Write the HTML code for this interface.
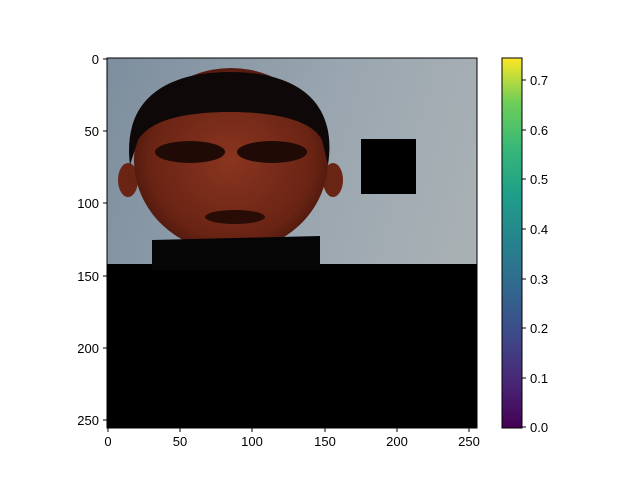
<!DOCTYPE html>
<html><head><meta charset="utf-8"><style>
body{margin:0;background:#fff;}
svg{display:block;font-family:"Liberation Sans",sans-serif;font-size:13px;}
</style></head><body>
<svg width="640" height="480" viewBox="0 0 640 480">
<defs>
<linearGradient id="vir" x1="0" y1="1" x2="0" y2="0">
<stop offset="0" stop-color="#440154"/><stop offset="0.13" stop-color="#482878"/>
<stop offset="0.25" stop-color="#3e4989"/><stop offset="0.38" stop-color="#31688e"/>
<stop offset="0.5" stop-color="#26828e"/><stop offset="0.63" stop-color="#1f9e89"/>
<stop offset="0.75" stop-color="#35b779"/><stop offset="0.88" stop-color="#6ece58"/>
<stop offset="1" stop-color="#fde725"/></linearGradient>
<linearGradient id="wall" x1="0" y1="0" x2="1" y2="0.3">
<stop offset="0" stop-color="#7d8e9e"/><stop offset="0.6" stop-color="#9aa6b0"/><stop offset="1" stop-color="#a8b0b4"/></linearGradient>
<radialGradient id="skin" cx="0.5" cy="0.5" r="0.6">
<stop offset="0" stop-color="#8a3520"/><stop offset="0.7" stop-color="#6a2414"/><stop offset="1" stop-color="#3a1008"/></radialGradient>
<clipPath id="ax"><rect x="107" y="58" width="370" height="370"/></clipPath>
</defs>
<g clip-path="url(#ax)">
<rect x="107" y="58" width="370" height="370" fill="url(#wall)"/>
<rect x="107" y="264" width="370" height="170" fill="#000"/>
<rect x="361" y="139" width="55" height="55" fill="#000"/>
<ellipse cx="128" cy="180" rx="10" ry="17" fill="#6a2414"/>
<ellipse cx="333" cy="180" rx="10" ry="17" fill="#6a2414"/>
<ellipse cx="231" cy="160" rx="97" ry="92" fill="url(#skin)"/>
<path d="M130,165 C122,100 165,72 230,72 C295,72 338,100 328,165 L322,140 C312,120 275,112 230,112 C185,112 150,120 138,140 Z" fill="#0e0808"/>
<ellipse cx="190" cy="152" rx="35" ry="11" fill="#200a05"/>
<ellipse cx="272" cy="152" rx="35" ry="11" fill="#200a05"/>
<ellipse cx="235" cy="217" rx="30" ry="7" fill="#2a0c06"/>
<path d="M152,240 L320,236 L320,270 L152,270 Z" fill="#050505"/>
</g>
<rect x="107" y="58" width="370" height="370" fill="none" stroke="#000" stroke-width="1"/>
<g stroke="#000">
<line x1="108" y1="428" x2="108" y2="432"/><line x1="180" y1="428" x2="180" y2="432"/><line x1="252" y1="428" x2="252" y2="432"/><line x1="325" y1="428" x2="325" y2="432"/><line x1="397" y1="428" x2="397" y2="432"/><line x1="469" y1="428" x2="469" y2="432"/>
</g>
<g text-anchor="middle" fill="#000">
<text x="108" y="446">0</text><text x="180" y="446">50</text><text x="252" y="446">100</text><text x="325" y="446">150</text><text x="397" y="446">200</text><text x="469" y="446">250</text>
</g>
<g stroke="#000">
<line x1="103" y1="59" x2="107" y2="59"/><line x1="103" y1="131" x2="107" y2="131"/><line x1="103" y1="203" x2="107" y2="203"/><line x1="103" y1="276" x2="107" y2="276"/><line x1="103" y1="348" x2="107" y2="348"/><line x1="103" y1="420" x2="107" y2="420"/>
</g>
<g text-anchor="end" fill="#000">
<text x="99" y="64">0</text><text x="99" y="136">50</text><text x="99" y="208">100</text><text x="99" y="281">150</text><text x="99" y="353">200</text><text x="99" y="425">250</text>
</g>
<rect x="502" y="58" width="20" height="370" fill="url(#vir)" stroke="#000" stroke-width="1"/>
<g stroke="#000">
<line x1="522" y1="427" x2="526" y2="427"/><line x1="522" y1="378" x2="526" y2="378"/><line x1="522" y1="328" x2="526" y2="328"/><line x1="522" y1="279" x2="526" y2="279"/><line x1="522" y1="229" x2="526" y2="229"/><line x1="522" y1="179" x2="526" y2="179"/><line x1="522" y1="130" x2="526" y2="130"/><line x1="522" y1="80" x2="526" y2="80"/>
</g>
<g fill="#000">
<text x="530" y="432">0.0</text><text x="530" y="383">0.1</text><text x="530" y="333">0.2</text><text x="530" y="284">0.3</text><text x="530" y="234">0.4</text><text x="530" y="184">0.5</text><text x="530" y="135">0.6</text><text x="530" y="85">0.7</text>
</g>
</svg>
</body></html>
